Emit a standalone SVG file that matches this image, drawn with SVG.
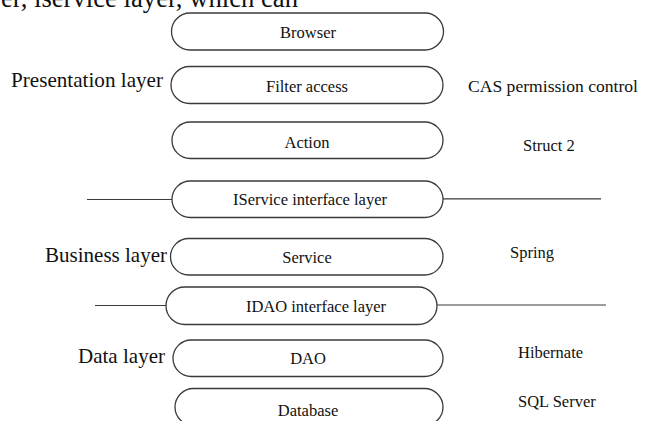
<svg xmlns="http://www.w3.org/2000/svg" width="649" height="421" viewBox="0 0 649 421">
<style>
text{font-family:"Liberation Serif","Times New Roman",serif;fill:#111}
.box{fill:#fff;stroke:#3a3a3a;stroke-width:1.3}
.bt{font-size:16.5px;text-anchor:middle}
.lay{font-size:21px}
.tech{font-size:16.5px}
.conn{stroke:#3a3a3a;stroke-width:1.2;fill:none}
.para{font-size:26.5px}
</style>
<rect width="649" height="421" fill="#fff"/>
<text class="para" x="1" y="7" textLength="297" lengthAdjust="spacingAndGlyphs">er, iservice layer, which can</text>
<g id="connectors">
<line class="conn" x1="87" y1="199.5" x2="172" y2="199.5"/>
<line class="conn" x1="443" y1="198.8" x2="601" y2="198.8"/>
<line class="conn" x1="95" y1="305.5" x2="166" y2="305.5"/>
<line class="conn" x1="437" y1="305" x2="606" y2="305"/>
</g>
<g id="browser"><rect class="box" x="171.5" y="13" width="272" height="37" rx="18.5"/><text class="bt" x="308" y="37.5">Browser</text></g>
<g id="filter"><rect class="box" x="171" y="66.5" width="272" height="37" rx="18.5"/><text class="bt" x="307" y="91.5">Filter access</text></g>
<g id="action"><rect class="box" x="172" y="122" width="271" height="36.5" rx="18.25"/><text class="bt" x="307" y="147.5">Action</text></g>
<g id="iservice"><rect class="box" x="172" y="181" width="271" height="36.5" rx="18.25"/><text class="bt" x="310" y="204.5">IService interface layer</text></g>
<g id="service"><rect class="box" x="170.5" y="238.5" width="272.5" height="36.5" rx="18.25"/><text class="bt" x="307" y="262.5">Service</text></g>
<g id="idao"><rect class="box" x="166" y="287" width="271" height="37.5" rx="18.75"/><text class="bt" x="316" y="311.5">IDAO interface layer</text></g>
<g id="dao"><rect class="box" x="173" y="340" width="270" height="36.5" rx="18.25"/><text class="bt" x="308" y="363.5">DAO</text></g>
<g id="database"><rect class="box" x="175" y="388.5" width="268" height="37" rx="18.5"/><text class="bt" x="308" y="416">Database</text></g>
<g id="layer-labels">
<text class="lay" x="11" y="87.3" textLength="152" lengthAdjust="spacingAndGlyphs">Presentation layer</text>
<text class="lay" x="45" y="262" textLength="122" lengthAdjust="spacingAndGlyphs">Business layer</text>
<text class="lay" x="78" y="363.3" textLength="87" lengthAdjust="spacingAndGlyphs">Data layer</text>
</g>
<g id="tech-labels">
<text class="tech" x="468" y="91.5" textLength="170" lengthAdjust="spacingAndGlyphs">CAS permission control</text>
<text class="tech" x="523" y="151">Struct 2</text>
<text class="tech" x="510" y="258.3">Spring</text>
<text class="tech" x="518" y="358">Hibernate</text>
<text class="tech" x="518" y="407">SQL Server</text>
</g>
</svg>
